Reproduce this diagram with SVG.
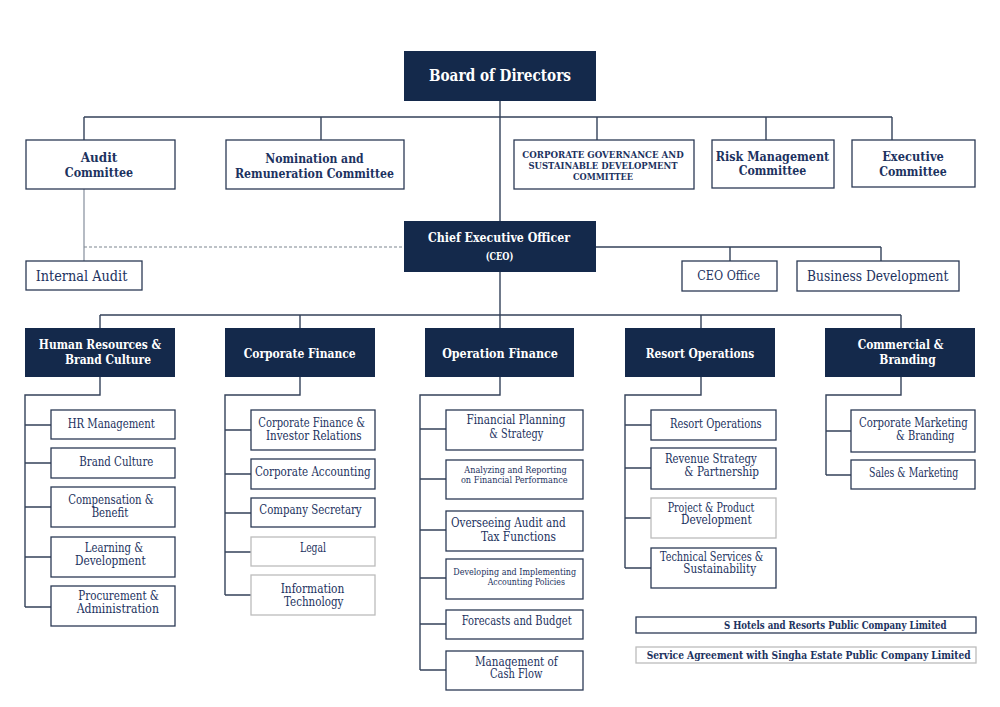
<svg xmlns="http://www.w3.org/2000/svg" width="1000" height="707" viewBox="0 0 1000 707">
<style>
.dk{fill:#14294b}
.bx{fill:#fff;stroke:#2b3a55;stroke-width:1.3}
.lt{fill:#fff;stroke:#bcbcbc;stroke-width:1.3}
.ln{stroke:#34425a;stroke-width:1.4;fill:none}
.lg{stroke:#8e97a4;stroke-width:1.3;fill:none}
.ds{stroke:#7d8590;stroke-width:1.2;stroke-dasharray:3 2;fill:none}
text{font-family:'DejaVu Serif Condensed','DejaVu Serif','Liberation Serif',serif;font-stretch:condensed;text-anchor:middle}
.tw{fill:#fff;font-weight:bold}
.tb{fill:#1c3260;font-weight:bold}
.tr{fill:#1c3260}
</style>
<rect width="1000" height="707" fill="#fff"/>
<g id="connectors">
<path class="ln" d="M500,101V221M84,117H892M84,117V140M321,117V140M597,117V140M766,117V140M892,117V140"/>
<path class="lg" d="M84,189V261"/>
<path class="ds" d="M84,247H404"/>
<path class="ln" d="M596,247H881M730,247V261M881,247V261"/>
<path class="ln" d="M500,272V315M100,315H901M100,315V328M300,315V328M500,315V328M701,315V328M901,315V328"/>
<path class="ln" d="M100,377V395H25V607M25,425H51M25,463H51M25,507H51M25,557H51M25,607H51"/>
<path class="ln" d="M300,377V395H225V595M225,430H251M225,474H251M225,513H251M225,552H251M225,595H251"/>
<path class="ln" d="M500,377V395H420V670M420,429H446M420,479H446M420,530H446M420,578H446M420,624H446M420,670H446"/>
<path class="ln" d="M701,377V395H625V568M625,425H651M625,468H651M625,518H651M625,568H651"/>
<path class="ln" d="M901,377V395H826V475M826,431H851M826,475H851"/>
</g>
<g id="board"><rect class="dk" x="404" y="51" width="192" height="50"/><text class="tw" x="500" y="81" font-size="17" textLength="142" lengthAdjust="spacingAndGlyphs">Board of Directors</text></g>
<g id="audit-committee"><rect class="bx" x="26" y="140" width="149" height="49"/><text class="tb" font-size="13.5"><tspan x="99" y="161.5" textLength="36.7" lengthAdjust="spacingAndGlyphs">Audit</tspan><tspan x="99" y="177" textLength="68.3" lengthAdjust="spacingAndGlyphs">Committee</tspan></text></g>
<g id="nomination-committee"><rect class="bx" x="226" y="140" width="178" height="49"/><text class="tb" font-size="13.5"><tspan x="314.5" y="163" textLength="98.3" lengthAdjust="spacingAndGlyphs">Nomination and</tspan><tspan x="314.5" y="178" textLength="159" lengthAdjust="spacingAndGlyphs">Remuneration Committee</tspan></text></g>
<g id="cg-committee"><rect class="bx" x="514" y="140" width="180" height="49"/><text class="tb" font-size="9.5"><tspan x="603" y="158" textLength="161.3" lengthAdjust="spacingAndGlyphs">CORPORATE GOVERNANCE AND</tspan><tspan x="603" y="169.3" textLength="149" lengthAdjust="spacingAndGlyphs">SUSTAINABLE DEVELOPMENT</tspan><tspan x="603" y="180" textLength="60" lengthAdjust="spacingAndGlyphs">COMMITTEE</tspan></text></g>
<g id="risk-committee"><rect class="bx" x="712" y="140" width="122" height="48"/><text class="tb" font-size="13.5"><tspan x="772.5" y="160.7" textLength="113.3" lengthAdjust="spacingAndGlyphs">Risk Management</tspan><tspan x="772.5" y="175" textLength="67.7" lengthAdjust="spacingAndGlyphs">Committee</tspan></text></g>
<g id="executive-committee"><rect class="bx" x="852" y="140" width="123" height="47"/><text class="tb" font-size="13.5"><tspan x="913" y="160.7" textLength="61.7" lengthAdjust="spacingAndGlyphs">Executive</tspan><tspan x="913" y="176" textLength="67.7" lengthAdjust="spacingAndGlyphs">Committee</tspan></text></g>
<g id="ceo"><rect class="dk" x="404" y="221" width="192" height="51"/><text class="tw"><tspan x="499" y="242.3" font-size="13.5" textLength="142" lengthAdjust="spacingAndGlyphs">Chief Executive Officer</tspan><tspan x="499.5" y="259.5" font-size="11" textLength="27.7" lengthAdjust="spacingAndGlyphs">(CEO)</tspan></text></g>
<g id="internal-audit"><rect class="bx" x="26" y="261" width="116" height="29"/><text class="tr" x="81.5" y="280.7" font-size="14" textLength="91.7" lengthAdjust="spacingAndGlyphs">Internal Audit</text></g>
<g id="ceo-office"><rect class="bx" x="682" y="261" width="95" height="30"/><text class="tr" x="728.7" y="280" font-size="13.5" textLength="62.7" lengthAdjust="spacingAndGlyphs">CEO Office</text></g>
<g id="business-development"><rect class="bx" x="797" y="261" width="162" height="30"/><text class="tr" x="877.7" y="280.7" font-size="14" textLength="141.3" lengthAdjust="spacingAndGlyphs">Business Development</text></g>
<g id="hr"><rect class="dk" x="25" y="328" width="150" height="49"/><text class="tw" font-size="13.5"><tspan x="100" y="349.3" textLength="122.3" lengthAdjust="spacingAndGlyphs">Human Resources &amp;</tspan><tspan x="108" y="364.3" textLength="86" lengthAdjust="spacingAndGlyphs">Brand Culture</tspan></text></g>
<g id="corporate-finance"><rect class="dk" x="225" y="328" width="150" height="49"/><text class="tw" x="299.7" y="357.7" font-size="13.5" textLength="112" lengthAdjust="spacingAndGlyphs">Corporate Finance</text></g>
<g id="operation-finance"><rect class="dk" x="425" y="328" width="149" height="49"/><text class="tw" x="500" y="357.7" font-size="13.5" textLength="115.7" lengthAdjust="spacingAndGlyphs">Operation Finance</text></g>
<g id="resort-operations"><rect class="dk" x="625" y="328" width="150" height="49"/><text class="tw" x="700" y="357.7" font-size="13.5" textLength="108.7" lengthAdjust="spacingAndGlyphs">Resort Operations</text></g>
<g id="commercial-branding"><rect class="dk" x="825" y="328" width="150" height="49"/><text class="tw" font-size="13.5"><tspan x="900.5" y="349.3" textLength="85.7" lengthAdjust="spacingAndGlyphs">Commercial &amp;</tspan><tspan x="907.5" y="364.3" textLength="56.3" lengthAdjust="spacingAndGlyphs">Branding</tspan></text></g>
<g id="hr-management"><rect class="bx" x="51" y="410" width="124" height="29"/><text class="tr" x="111.3" y="428.3" font-size="12" textLength="87.3" lengthAdjust="spacingAndGlyphs">HR Management</text></g>
<g id="brand-culture"><rect class="bx" x="51" y="448" width="124" height="30"/><text class="tr" x="116.3" y="465.7" font-size="12" textLength="74" lengthAdjust="spacingAndGlyphs">Brand Culture</text></g>
<g id="compensation"><rect class="bx" x="51" y="487" width="124" height="40"/><text class="tr" font-size="12"><tspan x="111" y="504" textLength="85.7" lengthAdjust="spacingAndGlyphs">Compensation &amp;</tspan><tspan x="110" y="516.7" textLength="36.7" lengthAdjust="spacingAndGlyphs">Benefit</tspan></text></g>
<g id="learning"><rect class="bx" x="51" y="537" width="124" height="40"/><text class="tr" font-size="12"><tspan x="114" y="552.3" textLength="58.3" lengthAdjust="spacingAndGlyphs">Learning &amp;</tspan><tspan x="110.3" y="565" textLength="70.7" lengthAdjust="spacingAndGlyphs">Development</tspan></text></g>
<g id="procurement"><rect class="bx" x="51" y="586" width="124" height="40"/><text class="tr" font-size="12"><tspan x="118.7" y="600" textLength="80.7" lengthAdjust="spacingAndGlyphs">Procurement &amp;</tspan><tspan x="117.8" y="612.7" textLength="82.3" lengthAdjust="spacingAndGlyphs">Administration</tspan></text></g>
<g id="cf-ir"><rect class="bx" x="251" y="410" width="124" height="40"/><text class="tr" font-size="12"><tspan x="311.7" y="427.3" textLength="106.7" lengthAdjust="spacingAndGlyphs">Corporate Finance &amp;</tspan><tspan x="313.8" y="440" textLength="95.7" lengthAdjust="spacingAndGlyphs">Investor Relations</tspan></text></g>
<g id="corporate-accounting"><rect class="bx" x="251" y="459" width="124" height="30"/><text class="tr" x="312.8" y="475.7" font-size="12" textLength="115.7" lengthAdjust="spacingAndGlyphs">Corporate Accounting</text></g>
<g id="company-secretary"><rect class="bx" x="251" y="498" width="124" height="29"/><text class="tr" x="310.5" y="514.3" font-size="12" textLength="102.3" lengthAdjust="spacingAndGlyphs">Company Secretary</text></g>
<g id="legal"><rect class="lt" x="251" y="537" width="124" height="29"/><text class="tr" x="313" y="552.3" font-size="12" textLength="26" lengthAdjust="spacingAndGlyphs">Legal</text></g>
<g id="it"><rect class="lt" x="251" y="575" width="124" height="40"/><text class="tr" font-size="12"><tspan x="312.5" y="593.3" textLength="63.7" lengthAdjust="spacingAndGlyphs">Information</tspan><tspan x="313.7" y="606" textLength="59.3" lengthAdjust="spacingAndGlyphs">Technology</tspan></text></g>
<g id="financial-planning"><rect class="bx" x="446" y="410" width="137" height="40"/><text class="tr" font-size="12"><tspan x="516" y="424.3" textLength="99" lengthAdjust="spacingAndGlyphs">Financial Planning</tspan><tspan x="516.3" y="438.3" textLength="54" lengthAdjust="spacingAndGlyphs">&amp; Strategy</tspan></text></g>
<g id="analyzing"><rect class="bx" x="446" y="460" width="137" height="39"/><text class="tr" font-size="8.5"><tspan x="515.5" y="473.3" textLength="102.3" lengthAdjust="spacingAndGlyphs">Analyzing and Reporting</tspan><tspan x="514.3" y="483.3" textLength="106.7" lengthAdjust="spacingAndGlyphs">on Financial Performance</tspan></text></g>
<g id="overseeing"><rect class="bx" x="446" y="511" width="137" height="40"/><text class="tr" font-size="12"><tspan x="508.3" y="527.3" textLength="114.7" lengthAdjust="spacingAndGlyphs">Overseeing Audit and</tspan><tspan x="518.5" y="540.7" textLength="75" lengthAdjust="spacingAndGlyphs">Tax Functions</tspan></text></g>
<g id="developing"><rect class="bx" x="446" y="559" width="137" height="40"/><text class="tr" font-size="8.5"><tspan x="514.7" y="575" textLength="122.7" lengthAdjust="spacingAndGlyphs">Developing and Implementing</tspan><tspan x="526.3" y="585" textLength="77.3" lengthAdjust="spacingAndGlyphs">Accounting Policies</tspan></text></g>
<g id="forecasts"><rect class="bx" x="446" y="610" width="137" height="29"/><text class="tr" x="516.7" y="625" font-size="12" textLength="110" lengthAdjust="spacingAndGlyphs">Forecasts and Budget</text></g>
<g id="cash-flow"><rect class="bx" x="446" y="651" width="137" height="39"/><text class="tr" font-size="12"><tspan x="516.3" y="665.7" textLength="82.7" lengthAdjust="spacingAndGlyphs">Management of</tspan><tspan x="516.2" y="678.3" textLength="52.3" lengthAdjust="spacingAndGlyphs">Cash Flow</tspan></text></g>
<g id="resort-operations-sub"><rect class="bx" x="651" y="410" width="125" height="30"/><text class="tr" x="715.8" y="428.3" font-size="12" textLength="91.7" lengthAdjust="spacingAndGlyphs">Resort Operations</text></g>
<g id="revenue-strategy"><rect class="bx" x="651" y="448" width="125" height="41"/><text class="tr" font-size="12"><tspan x="710.8" y="462.7" textLength="91.7" lengthAdjust="spacingAndGlyphs">Revenue Strategy</tspan><tspan x="721.7" y="475.7" textLength="74.7" lengthAdjust="spacingAndGlyphs">&amp; Partnership</tspan></text></g>
<g id="project-product"><rect class="lt" x="651" y="498" width="125" height="40"/><text class="tr" font-size="12"><tspan x="711" y="511.7" textLength="86.7" lengthAdjust="spacingAndGlyphs">Project &amp; Product</tspan><tspan x="716.3" y="524.3" textLength="70.7" lengthAdjust="spacingAndGlyphs">Development</tspan></text></g>
<g id="technical-services"><rect class="bx" x="651" y="548" width="125" height="40"/><text class="tr" font-size="12"><tspan x="711.7" y="560.7" textLength="103.3" lengthAdjust="spacingAndGlyphs">Technical Services &amp;</tspan><tspan x="719.7" y="573.3" textLength="72.7" lengthAdjust="spacingAndGlyphs">Sustainability</tspan></text></g>
<g id="corporate-marketing"><rect class="bx" x="851" y="410" width="124" height="42"/><text class="tr" font-size="12"><tspan x="913.3" y="427.3" textLength="108.7" lengthAdjust="spacingAndGlyphs">Corporate Marketing</tspan><tspan x="925.2" y="440" textLength="58.3" lengthAdjust="spacingAndGlyphs">&amp; Branding</tspan></text></g>
<g id="sales-marketing"><rect class="bx" x="851" y="460" width="124" height="29"/><text class="tr" x="913.7" y="476.7" font-size="12" textLength="89.3" lengthAdjust="spacingAndGlyphs">Sales &amp; Marketing</text></g>
<g id="legend-s-hotels"><rect class="bx" x="636" y="617" width="340" height="16"/><text class="tb" x="835.3" y="628.5" font-size="10.5" textLength="222.7" lengthAdjust="spacingAndGlyphs">S Hotels and Resorts Public Company Limited</text></g>
<g id="legend-service"><rect class="lt" x="636" y="647" width="340" height="16"/><text class="tb" x="808.7" y="658.5" font-size="10.5" textLength="324" lengthAdjust="spacingAndGlyphs">Service Agreement with Singha Estate Public Company Limited</text></g>
</svg>
